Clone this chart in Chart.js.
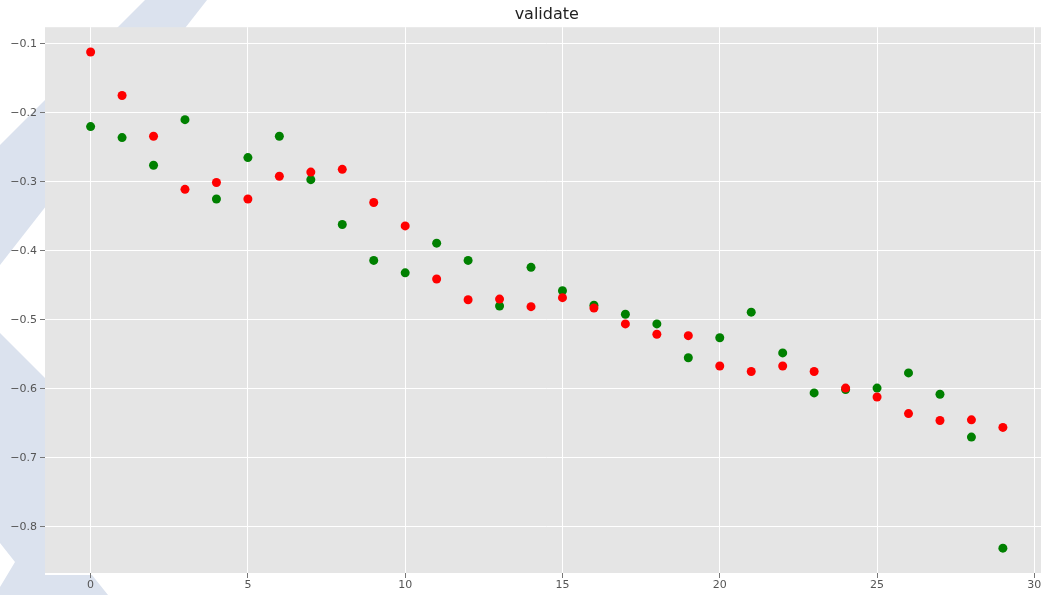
<!DOCTYPE html>
<html>
<head>
<meta charset="utf-8">
<script src="https://cdn.jsdelivr.net/npm/chart.js@4.4.1/dist/chart.umd.min.js"></script>
<style>
  html, body { margin: 0; padding: 0; background: #fff; overflow: hidden; }
  #validateChart { position: absolute; left: 0; top: 0; }
</style>
</head>
<body>
<canvas id="validateChart" width="1053" height="595"></canvas>
<script>
// x positions (epoch index)
const epochs = [0, 1, 2, 3, 4, 5, 6, 7, 8, 9, 10, 11, 12, 13, 14, 15, 16, 17, 18, 19,
                20, 21, 22, 23, 24, 25, 26, 27, 28, 29];

// red series
const redValues = [-0.112, -0.175, -0.234, -0.311, -0.301, -0.325, -0.292, -0.286, -0.282, -0.330,
                   -0.364, -0.441, -0.471, -0.470, -0.481, -0.468, -0.483, -0.506, -0.521, -0.523,
                   -0.567, -0.575, -0.567, -0.575, -0.599, -0.612, -0.636, -0.646, -0.645, -0.656];

// green series
const greenValues = [-0.220, -0.236, -0.276, -0.210, -0.325, -0.265, -0.234, -0.297, -0.362, -0.414,
                     -0.432, -0.389, -0.414, -0.480, -0.424, -0.458, -0.479, -0.492, -0.506, -0.555,
                     -0.526, -0.489, -0.548, -0.606, -0.601, -0.599, -0.577, -0.608, -0.670, -0.831];

const xTicks = [0, 5, 10, 15, 20, 25, 30];
const yTicks = [-0.1, -0.2, -0.3, -0.4, -0.5, -0.6, -0.7, -0.8];

const toPoints = vals => epochs.map((x, i) => ({ x: x, y: vals[i] }));

// faint watermark shapes behind the figure
const watermark = {
    id: 'watermark',
    beforeDraw(chart) {
        const ctx = chart.ctx;
        const shapes = [
            [[145, 0], [207, 0], [0, 265], [0, 145]],
            [[0, 333], [45, 378], [45, 575], [92, 575], [108, 595], [0, 595], [0, 587], [15, 562], [0, 543]]
        ];
        ctx.save();
        ctx.fillStyle = '#dbe2ee';
        shapes.forEach(s => {
            ctx.beginPath();
            s.forEach((p, i) => i === 0 ? ctx.moveTo(p[0], p[1]) : ctx.lineTo(p[0], p[1]));
            ctx.closePath();
            ctx.fill();
        });
        // plot background (ggplot style)
        const a = chart.chartArea;
        ctx.fillStyle = '#e5e5e5';
        ctx.fillRect(a.left, a.top, a.right - a.left, a.bottom - a.top);
        ctx.restore();
    }
};

const tickFont = { family: 'DejaVu Sans', size: 11 };

new Chart(document.getElementById('validateChart').getContext('2d'), {
    type: 'scatter',
    data: {
        datasets: [
            {
                label: 'red',
                data: toPoints(redValues),
                backgroundColor: '#ff0000',
                borderWidth: 0,
                pointRadius: 4.5,
                pointHoverRadius: 4.5
            },
            {
                label: 'green',
                data: toPoints(greenValues),
                backgroundColor: '#008000',
                borderWidth: 0,
                pointRadius: 4.5,
                pointHoverRadius: 4.5
            }
        ]
    },
    options: {
        responsive: false,
        animation: false,
        layout: { padding: { left: 0, right: 0, top: 0, bottom: 0 } },
        plugins: {
            legend: { display: false },
            tooltip: { enabled: false },
            title: {
                display: true,
                text: 'validate',
                fullSize: false,
                color: '#222',
                font: { family: 'DejaVu Sans', size: 16, weight: 'normal', lineHeight: 1.2 },
                padding: { top: 5, bottom: 3 }
            }
        },
        scales: {
            x: {
                type: 'linear',
                min: -1.45,
                max: 30.45,
                afterBuildTicks: scale => { scale.ticks = xTicks.map(v => ({ value: v })); },
                afterFit: scale => { scale.height = 22; },
                grid: { color: '#ffffff', lineWidth: 1, tickColor: '#777', tickLength: 5, drawOnChartArea: true },
                border: { display: false },
                ticks: { color: '#555', font: tickFont, padding: 1, maxRotation: 0 }
            },
            y: {
                type: 'linear',
                min: -0.867,
                max: -0.076,
                afterBuildTicks: scale => { scale.ticks = yTicks.map(v => ({ value: v })); },
                afterFit: scale => { scale.width = 45; },
                grid: { color: '#ffffff', lineWidth: 1, tickColor: '#777', tickLength: 5 },
                border: { display: false },
                ticks: {
                    color: '#555',
                    font: tickFont,
                    padding: 3,
                    callback: v => '\u2212' + Math.abs(v).toFixed(1)
                }
            }
        }
    },
    plugins: [watermark]
});
</script>
</body>
</html>
